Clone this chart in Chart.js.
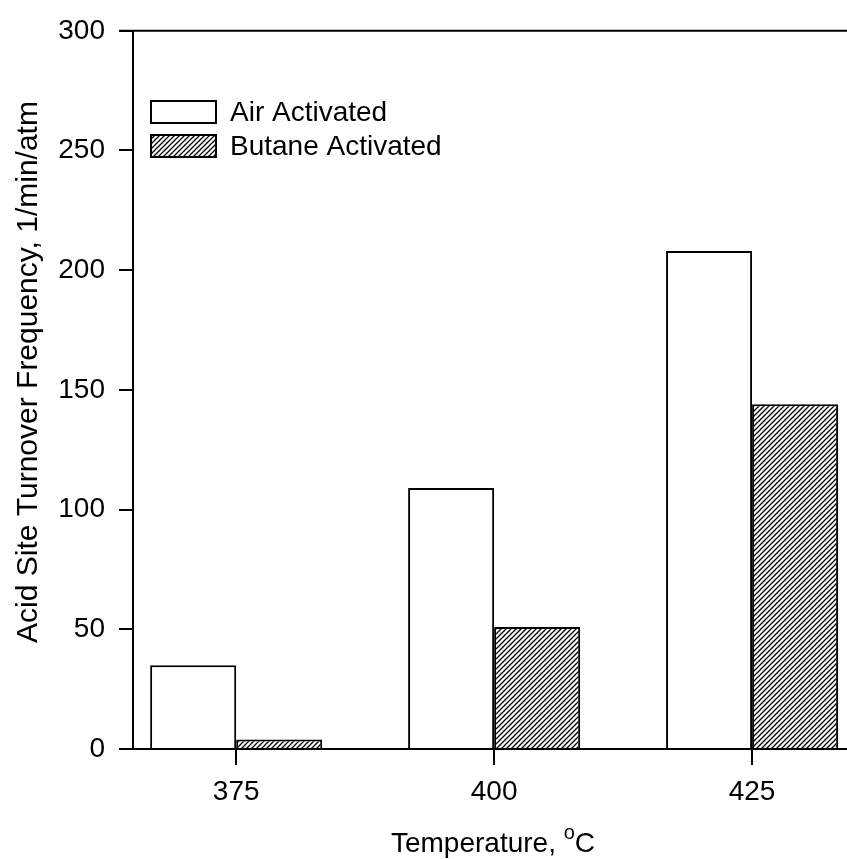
<!DOCTYPE html>
<html>
<head>
<meta charset="utf-8">
<script src="https://cdn.jsdelivr.net/npm/chart.js@4"></script>
<style>
  html, body { margin: 0; padding: 0; background: #fff; overflow: hidden; }
  #wrap { width: 847px; height: 859px; position: relative; }
</style>
</head>
<body>
<div id="wrap"><canvas id="c"></canvas></div>
<script>
// ---- data ----
const temperatures = [375, 400, 425];
const airActivated = [35, 109, 208];
const butaneActivated = [4, 51, 144];
const seriesLabels = ['Air Activated', 'Butane Activated'];
const yTickValues = [0, 50, 100, 150, 200, 250, 300];
const xTitle = ['Temperature, ', 'o', 'C'];
const yTitle = 'Acid Site Turnover Frequency, 1/min/atm';

const FONT = "'Liberation Sans', Arial, Helvetica, sans-serif";

function makeHatch() {
  const s = 5;
  const c = document.createElement('canvas');
  c.width = s; c.height = s;
  const g = c.getContext('2d');
  g.fillStyle = '#fff';
  g.fillRect(0, 0, s, s);
  g.strokeStyle = '#000';
  g.lineWidth = 1.3;
  g.beginPath();
  g.moveTo(0, s); g.lineTo(s, 0);
  g.moveTo(-1, 1); g.lineTo(1, -1);
  g.moveTo(s - 1, s + 1); g.lineTo(s + 1, s - 1);
  g.stroke();
  return document.getElementById('c').getContext('2d').createPattern(c, 'repeat');
}
const hatch = makeHatch();

const overlay = {
  id: 'overlay',
  afterDraw(chart) {
    const ctx = chart.ctx;
    const a = chart.chartArea;
    ctx.save();
    // top frame line
    ctx.strokeStyle = '#000';
    ctx.lineWidth = 2;
    ctx.beginPath();
    ctx.moveTo(a.left - 14, a.top);
    ctx.lineTo(a.right, a.top);
    ctx.stroke();

    // legend
    const fills = ['#fff', hatch];
    const rows = [101, 135];
    ctx.font = '28px ' + FONT;
    ctx.textBaseline = 'middle';
    ctx.textAlign = 'left';
    for (let i = 0; i < seriesLabels.length; i++) {
      ctx.fillStyle = fills[i];
      ctx.fillRect(151, rows[i], 65, 22);
      ctx.lineWidth = 2;
      ctx.strokeStyle = '#000';
      ctx.strokeRect(151, rows[i], 65, 22);
      ctx.fillStyle = '#000';
      ctx.fillText(seriesLabels[i], 230, rows[i] + 12);
    }

    // x title with superscript
    ctx.font = '28px ' + FONT;
    const w0 = ctx.measureText(xTitle[0]).width;
    ctx.font = '20px ' + FONT;
    const w1 = ctx.measureText(xTitle[1]).width;
    ctx.font = '28px ' + FONT;
    const w2 = ctx.measureText(xTitle[2]).width;
    let x = 493 - (w0 + w1 + w2) / 2;
    const base = 852;
    ctx.textBaseline = 'alphabetic';
    ctx.fillStyle = '#000';
    ctx.fillText(xTitle[0], x, base);
    x += w0;
    ctx.font = '20px ' + FONT;
    ctx.fillText(xTitle[1], x, base - 13);
    x += w1;
    ctx.font = '28px ' + FONT;
    ctx.fillText(xTitle[2], x, base);

    // y title
    ctx.translate(29, 372);
    ctx.rotate(-Math.PI / 2);
    ctx.textAlign = 'center';
    ctx.textBaseline = 'middle';
    ctx.font = '30px ' + FONT;
    ctx.fillText(yTitle, 0, 0);
    ctx.restore();
  }
};

new Chart(document.getElementById('c'), {
  type: 'bar',
  data: {
    datasets: [
      {
        label: seriesLabels[0],
        data: temperatures.map((t, i) => ({ x: t, y: airActivated[i] })),
        backgroundColor: '#fff',
        borderColor: '#000',
        borderWidth: 2,
        categoryPercentage: 0.667,
        barPercentage: 1.0
      },
      {
        label: seriesLabels[1],
        data: temperatures.map((t, i) => ({ x: t, y: butaneActivated[i] })),
        backgroundColor: hatch,
        borderColor: '#000',
        borderWidth: 2,
        categoryPercentage: 0.667,
        barPercentage: 1.0
      }
    ]
  },
  options: {
    responsive: true,
    maintainAspectRatio: false,
    animation: false,
    layout: { padding: { top: 26, left: 0, right: 0, bottom: 0 } },
    plugins: { legend: { display: false }, tooltip: { enabled: false } },
    scales: {
      x: {
        type: 'linear',
        min: 365,
        max: 434.2,
        offset: false,
        afterBuildTicks(scale) { scale.ticks = temperatures.map(v => ({ value: v })); },
        afterFit(scale) { scale.height = 110; },
        grid: { display: true, offset: false, drawOnChartArea: false, drawTicks: true, tickLength: 16, color: '#000', lineWidth: 2 },
        border: { display: true, color: '#000', width: 2 },
        ticks: { color: '#000', font: { family: FONT, size: 28 }, padding: 10, maxRotation: 0, callback: v => String(v) }
      },
      y: {
        type: 'linear',
        min: 0,
        max: 300,
        afterBuildTicks(scale) { scale.ticks = yTickValues.map(v => ({ value: v })); },
        afterFit(scale) { scale.width = 133; },
        grid: { display: true, drawOnChartArea: false, drawTicks: true, tickLength: 14, color: '#000', lineWidth: 2 },
        border: { display: true, color: '#000', width: 2 },
        ticks: { color: '#000', font: { family: FONT, size: 28 }, padding: 14 }
      }
    }
  },
  plugins: [overlay]
});
</script>
</body>
</html>
